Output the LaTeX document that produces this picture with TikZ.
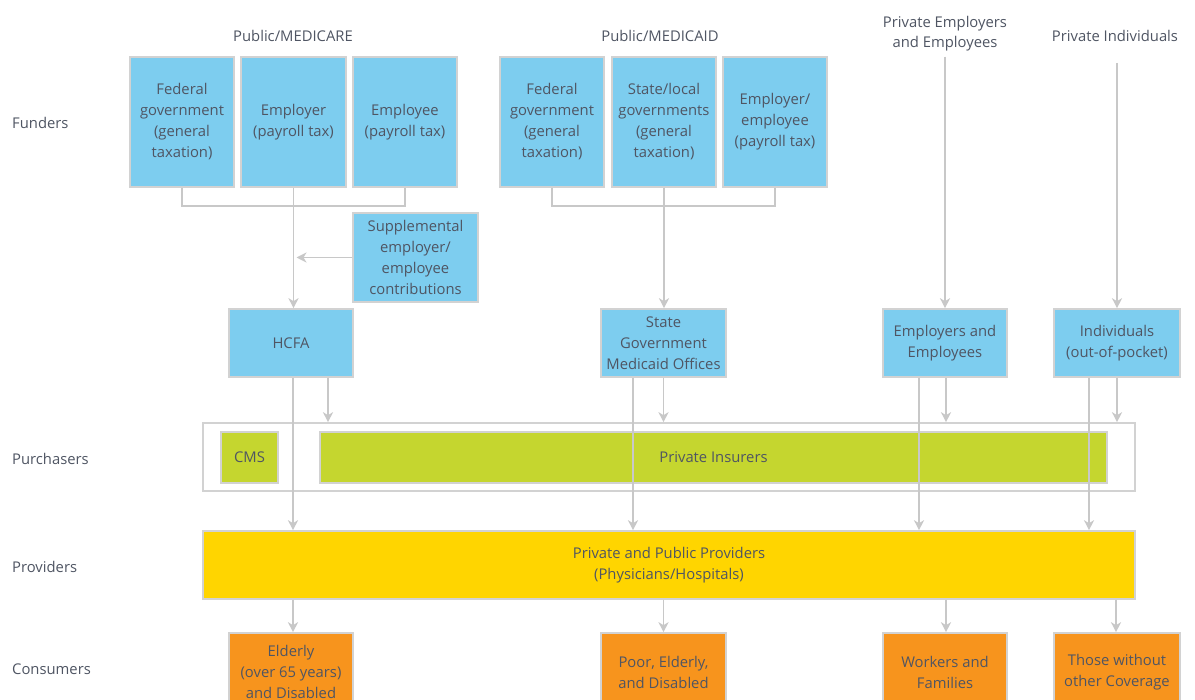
\documentclass[tikz,border=0pt]{standalone}
\usepackage{fontspec}
\setmainfont{Open Sans}
\usetikzlibrary{arrows.meta,calc}
\definecolor{fblue}{HTML}{7DCDEF}
\definecolor{fgreen}{HTML}{C5D62F}
\definecolor{fyellow}{HTML}{FFD500}
\definecolor{forange}{HTML}{F7941D}
\definecolor{bline}{HTML}{D2D2D2}
\definecolor{aline}{HTML}{C8C8C8}
\definecolor{txt}{HTML}{4F5563}
\tikzset{
  box/.style={draw=bline, line width=1.6pt, align=center, text=txt, inner sep=0pt,
    font=\fontsize{14.8}{21}\selectfont},
  bluebox/.style={box, fill=fblue},
  greenbox/.style={box, fill=fgreen},
  orangebox/.style={box, fill=forange},
  lbl/.style={text=txt, align=center, inner sep=0pt, font=\fontsize{14.8}{20}\selectfont},
  rowlbl/.style={lbl, anchor=west},
  conn/.style={draw=aline, line width=1.6pt},
  arr/.style={conn, -{Stealth[width=10pt,length=10pt,inset=3pt]}},
}
\begin{document}
\begin{tikzpicture}[x=1pt,y=-1pt]
\useasboundingbox (0,0) rectangle (1195,700);
\fill[white] (0,0) rectangle (1195,700);

% row labels
\node[rowlbl] (rfund) at (12,123) {Funders};
\node[rowlbl] (rpurch) at (12,459) {Purchasers};
\node[rowlbl] (rprov) at (12,567) {Providers};
\node[rowlbl] (rcons) at (12,669) {Consumers};

% group labels
\node[lbl] (gmc) at (293,36) {Public/MEDICARE};
\node[lbl] (gmd) at (660,36) {Public/MEDICAID};
\node[lbl] (gpe) at (945,34) {Private Employers\\and Employees};
\node[lbl] (gpi) at (1115,36) {Private Individuals};

% Medicare funders
\node[bluebox, minimum width=104pt, minimum height=130pt] (f1) at (182,122) {Federal\\government\\(general\\taxation)};
\node[bluebox, minimum width=105pt, minimum height=130pt] (f2) at (293.5,122) {Employer\\(payroll tax)};
\node[bluebox, minimum width=104pt, minimum height=130pt] (f3) at (405,122) {Employee\\(payroll tax)};
% Medicaid funders
\node[bluebox, minimum width=104pt, minimum height=130pt] (m1) at (552,122) {Federal\\government\\(general\\taxation)};
\node[bluebox, minimum width=104pt, minimum height=130pt] (m2) at (664,122) {State/local\\governments\\(general\\taxation)};
\node[bluebox, minimum width=104pt, minimum height=130pt] (m3) at (775,122) {Employer/\\employee\\(payroll tax)};

\node[bluebox, minimum width=125pt, minimum height=89pt] (supp) at (415.5,257.5) {Supplemental\\employer/\\employee\\contributions};

% intermediaries
\node[bluebox, minimum width=124pt, minimum height=68pt] (hcfa) at (291,343) {HCFA};
\node[bluebox, minimum width=125pt, minimum height=68pt] (state) at (663.5,343) {State\\Government\\Medicaid Offices};
\node[bluebox, minimum width=124pt, minimum height=68pt] (empemp) at (945,343) {Employers and\\Employees};
\node[bluebox, minimum width=126pt, minimum height=68pt] (indiv) at (1117,343) {Individuals\\(out-of-pocket)};

% purchasers
\node[box, minimum width=932pt, minimum height=68pt] (purch) at (669,457) {};
\node[greenbox, minimum width=57pt, minimum height=51pt] (cms) at (249.5,457.5) {CMS};
\node[greenbox, minimum width=787pt, minimum height=51pt] (pins) at (713.5,457.5) {Private Insurers};

% providers
\node[box, fill=fyellow, minimum width=932pt, minimum height=68pt] (prov) at (669,565) {Private and Public Providers\\(Physicians/Hospitals)};

% consumers
\node[orangebox, minimum width=124pt, minimum height=78pt] (c1) at (291,672) {Elderly\\(over 65 years)\\and Disabled};
\node[orangebox, minimum width=125pt, minimum height=78pt] (c2) at (663.5,672) {Poor, Elderly,\\and Disabled};
\node[orangebox, minimum width=124pt, minimum height=78pt] (c3) at (945,672) {Workers and\\Families};
\node[orangebox, minimum width=126pt, minimum height=78pt] (c4) at (1117,672) {Those without\\other Coverage};

% brackets
\draw[conn] (f1.south) -- ++(0,18) coordinate (bk1) -| (f3.south);
\draw[conn] (m1.south) -- ++(0,18) coordinate (bk2) -| (m3.south);
\draw[arr] (f2.south) -- (f2.south |- hcfa.north);
\draw[arr] (m2.south) -- (m2.south |- state.north);
\draw[arr, shorten >=1pt] (supp.west) -- ($(supp.west -| f2.south)+(2,0)$);

% private top arrows
\draw[arr, shorten <=5pt] (gpe.south -| empemp.north) -- (empemp.north);
\draw[arr, shorten <=21pt] (gpi.south -| indiv.north) -- (indiv.north);

% to purchasers / providers
\draw[arr] ([xshift=2pt]hcfa.south) -- ([xshift=2pt]hcfa.south |- prov.north);
\draw[arr] ([xshift=37pt]hcfa.south) -- ([xshift=37pt]hcfa.south |- purch.north);
\draw[arr] ([xshift=-30.5pt]state.south) -- ([xshift=-30.5pt]state.south |- prov.north);
\draw[arr] (state.south) -- (state.south |- purch.north);
\draw[arr] ([xshift=-26pt]empemp.south) -- ([xshift=-26pt]empemp.south |- prov.north);
\draw[arr] ([xshift=1pt]empemp.south) -- ([xshift=1pt]empemp.south |- purch.north);
\draw[arr] ([xshift=-28pt]indiv.south) -- ([xshift=-28pt]indiv.south |- prov.north);
\draw[arr] (indiv.south) -- (indiv.south |- purch.north);

% to consumers
\draw[arr] ([xshift=2pt]c1.north |- prov.south) -- ([xshift=2pt]c1.north);
\draw[arr] (c2.north |- prov.south) -- (c2.north);
\draw[arr] ([xshift=1pt]c3.north |- prov.south) -- ([xshift=1pt]c3.north);
\draw[arr] ([xshift=-1pt]c4.north |- prov.south) -- ([xshift=-1pt]c4.north);
\end{tikzpicture}
\end{document}
